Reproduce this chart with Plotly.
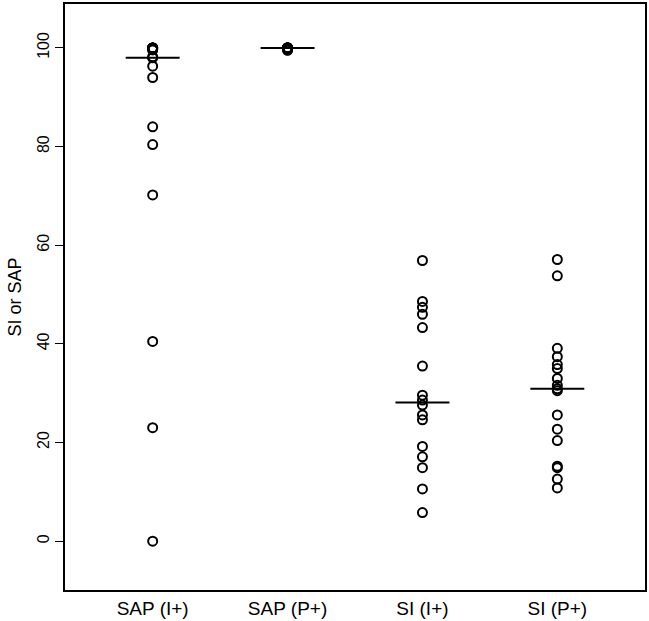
import numpy as np
import plotly.graph_objects as go

categories = ["SAP (I+)", "SAP (P+)", "SI (I+)", "SI (P+)"]
sap_i = [100, 100, 100, 100, 100, 99.6, 99.6, 98.2, 98.0, 96.3, 94.0, 84.0, 80.4, 70.2, 40.5, 23.0, 0.0]
sap_p = [100, 100, 100, 100, 100, 100, 100, 100, 100, 100, 99.8, 99.6, 99.5]
si_i = [56.9, 48.6, 47.4, 46.0, 43.3, 35.5, 29.6, 28.6, 27.6, 25.6, 24.6, 19.2, 17.1, 14.9, 10.6, 5.8]
si_p = [57.1, 53.8, 39.1, 37.4, 35.8, 35.0, 33.0, 31.6, 30.9, 30.5, 25.6, 22.7, 20.4, 15.2, 14.9, 12.6, 10.8]
groups = [sap_i, sap_p, si_i, si_p]
y_ticks = [0, 20, 40, 60, 80, 100]

fig = go.Figure()
for i, vals in enumerate(groups):
    pos = i + 1
    fig.add_trace(go.Scatter(
        x=[pos] * len(vals), y=vals, mode="markers",
        marker=dict(symbol="circle-open", size=9, color="black", line=dict(width=2, color="black")),
        showlegend=False, hoverinfo="y"))
    med = float(np.median(vals))
    fig.add_trace(go.Scatter(
        x=[pos - 0.2, pos + 0.2], y=[med, med], mode="lines",
        line=dict(color="black", width=2), showlegend=False, hoverinfo="skip"))

fig.update_layout(
    width=649, height=621, autosize=False,
    margin=dict(l=65, r=2, t=2, b=30),
    paper_bgcolor="white", plot_bgcolor="white",
    font=dict(family="Liberation Sans, Arial, sans-serif", color="black", size=17),
    xaxis=dict(
        range=[0.35, 4.65], tickvals=[1, 2, 3, 4], ticktext=categories,
        showgrid=False, zeroline=False, showline=True, mirror=True,
        linecolor="black", linewidth=2, ticks="", tickfont=dict(size=19),
    ),
    yaxis=dict(
        range=[-9.9, 108.9], tickvals=y_ticks, ticktext=[str(t) for t in y_ticks],
        showgrid=False, zeroline=False, showline=True, mirror=True,
        linecolor="black", linewidth=2, ticks="outside", ticklen=8,
        tickcolor="black", tickwidth=1, tickangle=-90, tickfont=dict(size=16),
        title=dict(text="SI or SAP", font=dict(size=18), standoff=8),
    ),
)

fig.write_html(
    "out.html",
    config={"responsive": False, "displayModeBar": False},
    post_script="document.body.style.margin='0';document.body.style.padding='0';",
)
